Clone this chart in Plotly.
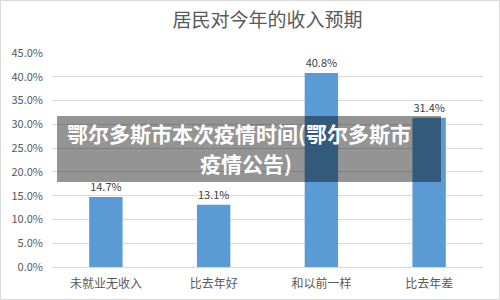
import plotly.graph_objects as go

categories = ["未就业无收入", "比去年好", "和以前一样", "比去年差"]
values = [14.7, 13.1, 40.8, 31.4]
labels = ["14.7%", "13.1%", "40.8%", "31.4%"]
tick_vals = [0, 5, 10, 15, 20, 25, 30, 35, 40, 45]
tick_text = ["0.0%", "5.0%", "10.0%", "15.0%", "20.0%", "25.0%", "30.0%", "35.0%", "40.0%", "45.0%"]
title = "居民对今年的收入预期"
overlay_line1 = "鄂尔多斯市本次疫情时间(鄂尔多斯市"
overlay_line2 = "疫情公告)"

W, H = 500, 300
L, R, T, B = 52, 17, 53, 33
PW, PH = W - L - R, H - T - B

def px(x):
    return (x - L) / PW

def py(y):
    return (H - B - y) / PH

FONT = "Noto Sans CJK SC"

fig = go.Figure()
fig.add_trace(go.Bar(
    x=categories, y=values, text=labels, textposition="outside",
    textfont=dict(size=11, color="#404040", family=FONT),
    marker=dict(color="#5b9bd5", line=dict(width=0)),
    cliponaxis=False,
))

fig.update_layout(
    width=W, height=H,
    margin=dict(l=L, r=R, t=T, b=B, autoexpand=False),
    paper_bgcolor="white", plot_bgcolor="white",
    bargap=0.69,
    showlegend=False,
    font=dict(family=FONT, color="#595959"),
    title=dict(text=title, x=0.5, xref="paper", xanchor="center",
               y=1 - 20 / H, yanchor="middle",
               font=dict(size=19, color="#595959", family=FONT)),
    xaxis=dict(showgrid=False, showline=True, linecolor="#d9d9d9", linewidth=1,
               ticks="", ticklabelstandoff=6, automargin=False,
               tickfont=dict(size=12, color="#595959", family=FONT)),
    yaxis=dict(range=[0, 45], tickvals=tick_vals, ticktext=tick_text,
               showgrid=True, gridcolor="#d9d9d9", gridwidth=1, automargin=False,
               zeroline=False, showline=False, ticks="", ticklabelstandoff=8,
               tickfont=dict(size=11, color="#595959", family=FONT)),
)

# outer border of the chart image
fig.add_shape(type="rect", xref="paper", yref="paper",
              x0=px(0.5), x1=px(W - 0.5), y0=py(H - 0.5), y1=py(0.5),
              line=dict(color="#d9d9d9", width=1), layer="above")

# dark translucent overlay band
fig.add_shape(type="rect", xref="paper", yref="paper",
              x0=px(57), x1=px(441), y0=py(182), y1=py(116),
              fillcolor="rgba(0,0,0,0.42)", line=dict(width=0), layer="above")

fig.add_annotation(text="<b>" + overlay_line1 + "</b>", xref="paper", yref="paper",
                   x=px(239), y=py(133), xanchor="center", yanchor="middle",
                   showarrow=False, font=dict(size=21, color="white", family=FONT))
fig.add_annotation(text="<b>" + overlay_line2 + "</b>", xref="paper", yref="paper",
                   x=px(246), y=py(163), xanchor="center", yanchor="middle",
                   showarrow=False, font=dict(size=21, color="white", family=FONT))

fig.write_html("out.html")
